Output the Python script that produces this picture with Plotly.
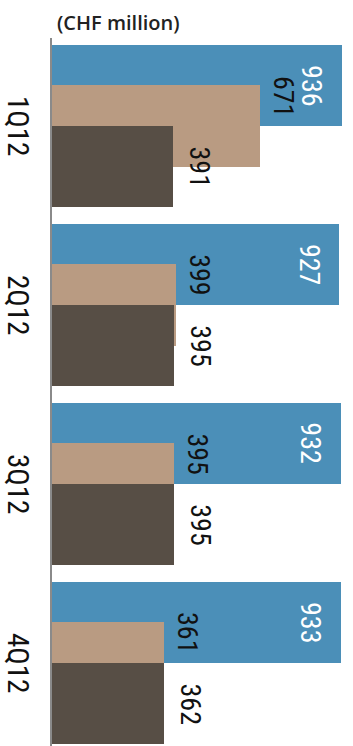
import plotly.graph_objects as go

quarters = ["1Q12", "2Q12", "3Q12", "4Q12"]
series_a = [936, 927, 932, 933]   # blue
series_b = [671, 399, 395, 361]   # tan
series_c = [391, 395, 395, 362]   # dark brown

colors = ["#4b8fb8", "#b99b82", "#574e45"]
bar_w = 0.455
offsets = [-bar_w, -bar_w / 2, 0.0]

label_font = "Liberation Sans Narrow, Roboto Condensed, DejaVu Sans Condensed, sans-serif"

fig = go.Figure()
for vals, col, off in zip([series_a, series_b, series_c], colors, offsets):
    fig.add_trace(go.Bar(
        y=quarters, x=vals, orientation="h",
        width=bar_w, offset=off,
        marker=dict(color=col, line=dict(width=0)),
        hoverinfo="skip", showlegend=False,
    ))

annotations = []
for i, q in enumerate(quarters):
    # rotated category label left of the axis line
    annotations.append(dict(x=0, y=i, xref="paper", yref="y", text=q,
                            showarrow=False, textangle=90,
                            xanchor="center", yanchor="middle", xshift=-34,
                            font=dict(family=label_font, size=29, color="#111111")))
    annotations.append(dict(x=series_a[i], y=i - bar_w / 2, xref="x", yref="y",
                            text=str(series_a[i]), showarrow=False, textangle=90,
                            xanchor="center", yanchor="middle", xshift=-30,
                            font=dict(family=label_font, size=28, color="white")))
    annotations.append(dict(x=series_b[i], y=i - 0.168, xref="x", yref="y",
                            text=str(series_b[i]), showarrow=False, textangle=90,
                            xanchor="center", yanchor="middle", xshift=23,
                            font=dict(family=label_font, size=28, color="#111111")))
    annotations.append(dict(x=series_c[i], y=i + bar_w / 2, xref="x", yref="y",
                            text=str(series_c[i]), showarrow=False, textangle=90,
                            xanchor="center", yanchor="middle", xshift=26,
                            font=dict(family=label_font, size=28, color="#111111")))

annotations.append(dict(x=0, y=1, xref="paper", yref="paper", text="(CHF million)",
                        showarrow=False, xanchor="left", yanchor="bottom",
                        xshift=3, yshift=0,
                        font=dict(family="Open Sans, sans-serif", size=20,
                                  color="#222222", weight=600)))

fig.update_layout(
    width=353, height=746,
    margin=dict(l=52, r=0, t=38, b=0),
    paper_bgcolor="white", plot_bgcolor="white",
    barmode="overlay", bargap=0,
    annotations=annotations,
    xaxis=dict(range=[0, 971], showgrid=False, zeroline=False, showline=False,
               showticklabels=False, ticks="", automargin=False),
    yaxis=dict(type="category", categoryorder="array", categoryarray=quarters,
               range=[3.4637, -0.4916], showgrid=False, zeroline=False,
               showline=True, linecolor="#8a8a8a", linewidth=2,
               ticks="", showticklabels=False, automargin=False),
)

fig.write_html("out.html")
